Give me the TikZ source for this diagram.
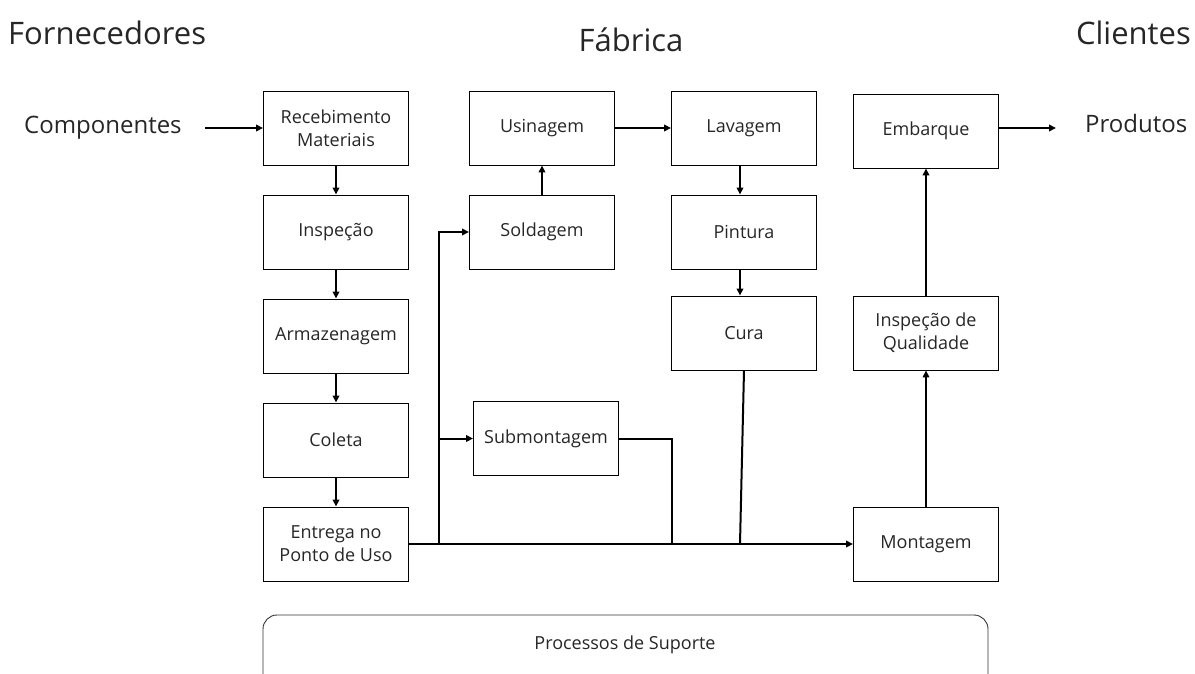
\documentclass[tikz,border=0pt]{standalone}
\usepackage{fontspec}
\setmainfont{Open Sans}
\usetikzlibrary{arrows.meta}
\begin{document}
\begin{tikzpicture}[x=1pt,y=-1pt,
  proc/.style={draw, line width=0.9pt, minimum width=145pt, minimum height=74pt,
    align=center, inner sep=0pt, font=\fontsize{18}{23}\selectfont, text=black!85},
  flow/.style={line width=2pt, -{Triangle[length=7pt,width=6.5pt]}},
  line/.style={line width=2pt},
  head/.style={font=\fontsize{31}{34}\selectfont, text=black!85},
  io/.style={font=\fontsize{24}{27}\selectfont, text=black!85}]
\useasboundingbox (0,0) rectangle (1195,674);

% titles
\node[head, anchor=west, inner sep=0pt] (forn) at (8,33) {Fornecedores};
\node[head, inner sep=0pt] (fab) at (631,40) {Fábrica};
\node[head, anchor=east, inner sep=0pt] (cli) at (1191,33) {Clientes};
\node[io, anchor=west, inner sep=0pt] (comp) at (24,128) {Componentes};
\node[io, anchor=west, inner sep=0pt] (prod) at (1085,124) {Produtos};

% left column
\node[proc] (rec) at (336,128) {Recebimento\\Materiais};
\node[proc] (insp) at (336,232) {Inspeção};
\node[proc] (arm) at (336,336) {Armazenagem};
\node[proc] (col) at (336,440) {Coleta};
\node[proc] (ent) at (336,544) {Entrega no\\Ponto de Uso};

% middle columns
\node[proc] (usi) at (542,128) {Usinagem};
\node[proc] (sol) at (542,232) {Soldagem};
\node[proc] (sub) at (546,438.5) {Submontagem};
\node[proc] (lav) at (744,128) {Lavagem};
\node[proc] (pin) at (744,232) {Pintura};
\node[proc] (cur) at (744,333) {Cura};

% right column
\node[proc] (emb) at (926,131) {Embarque};
\node[proc] (iq) at (926,333) {Inspeção de\\Qualidade};
\node[proc] (mon) at (926,544) {Montagem};

% support processes band
\draw[line width=0.9pt, rounded corners=14pt, black!80]
  (263,680) -- (263,615) -- (988,615) -- (988,680);
\node[font=\fontsize{18}{21}\selectfont, text=black!85] (sup) at (625,645) {Processos de Suporte};

% coordinates of the distribution bus
\coordinate (inL) at (205,128);
\coordinate (outR) at (1056,128);
\coordinate (busL) at (439,544);
\coordinate (subR) at (672,438.5);
\coordinate (subB) at (672,544);
\coordinate (curB) at (740,544);

% flows
\draw[flow] (inL) -- (rec.west);
\draw[flow] (rec) -- (insp);
\draw[flow] (insp) -- (arm);
\draw[flow] (arm) -- (col);
\draw[flow] (col) -- (ent);
\draw[flow] (ent.east) -- (mon.west);
\draw[flow] (busL) |- (sol.west);
\draw[flow] (busL |- sub.west) -- (sub.west);
\draw[flow] (sol) -- (usi);
\draw[flow] (usi) -- (lav);
\draw[flow] (lav.south -| curB) -- (pin.north -| curB);
\draw[flow] (pin.south -| curB) -- (cur.north -| curB);
\draw[line] (sub.east) -- (subR) -- (subB);
\draw[line] (cur.south) -- (curB);
\draw[flow] (mon) -- (iq);
\draw[flow] (iq) -- (emb);
\draw[flow] (emb.east |- outR) -- (outR);
\end{tikzpicture}
\end{document}
